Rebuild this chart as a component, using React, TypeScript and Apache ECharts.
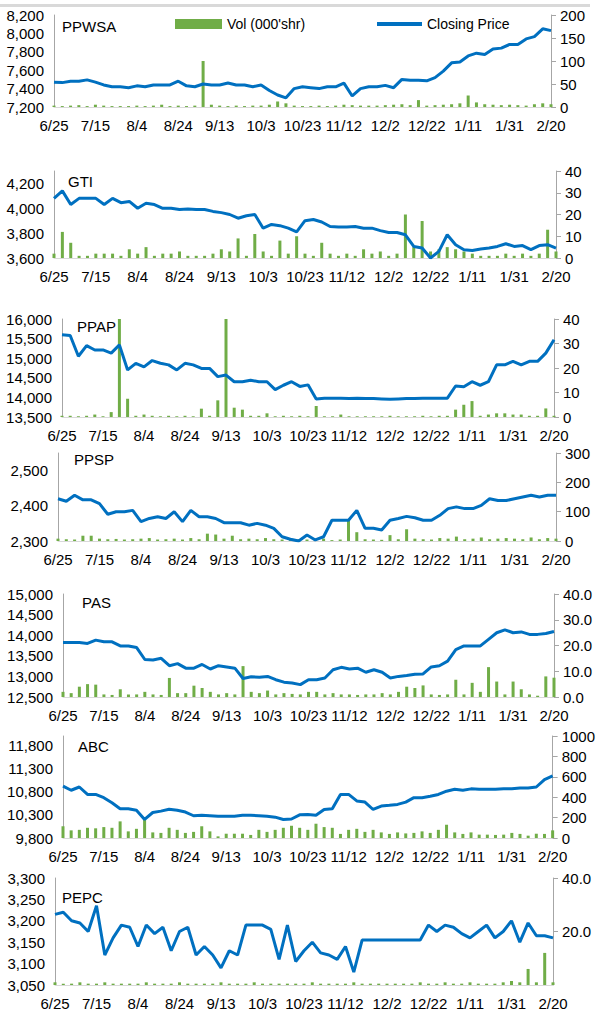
import React, { useEffect, useRef } from "react";
import * as echarts from "echarts";

const dates = [
  "6/25","6/29","7/3","7/7","7/11","7/15","7/19","7/23","7/27","7/31",
  "8/4","8/8","8/12","8/16","8/20","8/24","8/28","9/1","9/5","9/9",
  "9/13","9/17","9/21","9/25","9/29","10/3","10/7","10/11","10/15","10/19",
  "10/23","10/27","10/31","11/4","11/8","11/12","11/16","11/20","11/24","11/28",
  "12/2","12/6","12/10","12/14","12/18","12/22","12/26","12/30","1/3","1/7",
  "1/11","1/15","1/19","1/23","1/27","1/31","2/4","2/8","2/12","2/16",
  "2/20",
];

const VOL = "Vol (000'shr)";
const PRICE = "Closing Price";

const ppwsaPrice = [
  7470,7465,7480,7480,7495,7470,7440,7420,7420,7410,
  7430,7420,7440,7440,7440,7480,7430,7420,7450,7440,
  7440,7460,7440,7440,7420,7440,7380,7330,7300,7400,
  7420,7410,7400,7420,7420,7460,7320,7400,7420,7420,
  7435,7410,7500,7490,7490,7485,7520,7590,7680,7690,
  7755,7785,7770,7830,7840,7880,7880,7940,7965,8050,
  8030,
];
const ppwsaVol = [
  3,2,3,4,2,5,3,2,2,2,
  3,2,3,5,2,3,2,3,100,5,
  3,2,3,2,3,3,5,12,8,3,
  2,2,3,2,3,5,4,3,3,3,
  4,5,6,4,15,3,4,5,6,8,
  25,10,6,5,4,5,4,3,6,8,
  6,
];

const gtiPrice = [
  4080,4140,4030,4080,4080,4080,4030,4080,4045,4055,
  4000,4040,4030,4000,4000,3990,3995,3990,3990,3975,
  3965,3950,3920,3940,3950,3840,3870,3860,3840,3810,
  3900,3910,3890,3853,3850,3850,3853,3840,3840,3820,
  3805,3805,3787,3693,3680,3600,3653,3787,3707,3667,
  3660,3672,3680,3693,3715,3693,3700,3667,3700,3707,
  3680,
];
const gtiVol = [
  2,12,7,1,1,2,2,2,1,4,
  2,5,1,2,2,3,1,1,1,2,
  4,3,9,1,11,3,1,8,2,10,
  2,1,7,2,1,2,1,4,2,3,
  1,2,20,5,17,3,4,5,4,3,
  2,1,1,1,2,1,2,1,2,13,
  3,
];

const ppapPrice = [
  15600,15580,15050,15320,15210,15210,15130,15340,14700,14870,
  14780,14940,14870,14830,14700,14870,14830,14740,14740,14530,
  14570,14400,14400,14440,14400,14400,14200,14310,14400,14280,
  14320,13960,13980,13980,13980,13970,13980,13970,13970,13960,
  13950,13960,13970,13970,13980,13980,13980,13980,14290,14270,
  14400,14310,14400,14830,14830,14920,14830,14920,14920,15130,
  15470,
];
const ppapVol = [
  0.5,0.5,0.3,0.5,1,0.3,2,40,7.5,0.5,
  1,0.5,0.3,0.5,0.3,0.5,0.3,3.4,0.5,6.8,
  40,3.8,3,0.5,0.5,1.5,0.3,0.5,0.3,0.5,
  0.3,4.5,0.3,0.3,1,0.3,0.3,0.3,0.3,0.3,
  0.5,0.3,0.3,0.3,0.5,0.3,0.5,0.5,3,5,
  6.5,0.5,1,1.5,1.5,1,1,0.5,0.5,3.5,
  0.5,
];

const ppspPrice = [
  2420,2413,2430,2417,2417,2406,2376,2383,2383,2387,
  2355,2364,2369,2364,2383,2355,2387,2369,2369,2364,
  2352,2352,2352,2345,2350,2345,2336,2312,2305,2300,
  2317,2303,2312,2359,2359,2359,2387,2336,2336,2331,
  2359,2364,2370,2366,2359,2359,2373,2392,2397,2392,
  2392,2401,2420,2415,2415,2420,2425,2430,2425,2430,
  2430,
];
const ppspVol = [
  8,6,5,18,18,8,6,7,5,6,
  8,10,5,6,8,5,10,6,25,22,
  8,18,6,8,6,10,6,5,8,6,
  5,4,8,3,5,75,30,6,5,4,
  20,6,40,8,6,5,10,8,15,6,
  8,12,6,8,10,8,6,12,6,10,
  8,
];

const pasPrice = [
  13820,13820,13820,13800,13880,13840,13840,13740,13740,13700,
  13410,13400,13440,13260,13310,13200,13200,13290,13180,13260,
  13230,13200,12950,12990,12980,13000,12920,12860,12840,12800,
  12920,12920,12960,13160,13220,13180,13200,13100,13160,13100,
  12960,13000,13020,13050,13060,13230,13260,13370,13650,13740,
  13740,13740,13900,14060,14130,14060,14080,14020,14020,14040,
  14090,
];
const pasVol = [
  2,1.5,4,5,4.8,1,0.8,3,1,1,
  2,1,0.8,7.4,1.5,1.5,4.4,3.5,2,1,
  1.5,1,12,2,1.5,2.5,1,1.5,1.2,1,
  2,2,1,1.5,1,1,0.8,1,1,1.5,
  1,2,4,3.5,4.5,1,0.8,1,6.7,1,
  5.5,2,11.6,6,1,6,3,1,0.5,8,
  7.5,
];

const abcPrice = [
  10920,10830,10900,10740,10740,10670,10560,10430,10430,10400,
  10200,10350,10380,10420,10400,10360,10280,10290,10280,10270,
  10270,10270,10290,10290,10280,10270,10250,10200,10210,10300,
  10305,10290,10415,10430,10740,10740,10600,10575,10415,10490,
  10505,10525,10575,10670,10670,10700,10740,10810,10850,10830,
  10860,10850,10850,10850,10860,10860,10880,10880,10900,11060,
  11140,
];
const abcVol = [
  115,75,80,100,95,107,100,163,65,90,
  180,55,50,100,80,50,60,115,65,16,
  42,42,42,30,80,60,80,100,120,100,
  80,140,107,100,40,80,90,60,80,55,
  40,55,45,50,65,50,80,130,55,40,
  55,33,33,30,33,50,40,23,42,40,
  75,
];

const pepcPrice = [
  3215,3220,3200,3195,3175,3235,3120,3160,3190,3185,
  3140,3190,3170,3185,3130,3175,3185,3120,3140,3120,
  3090,3130,3120,3190,3190,3190,3180,3110,3190,3105,
  3130,3150,3125,3120,3110,3140,3080,3155,3155,3155,
  3155,3155,3155,3155,3155,3190,3175,3190,3185,3170,
  3160,3175,3190,3160,3175,3200,3150,3195,3165,3165,
  3160,
];
const pepcVol = [
  1,0.5,0.5,1,0.5,0.5,1,0.5,0.5,0.5,
  0.5,1,0.5,0.5,0.5,1,0.5,0.5,0.5,0.5,
  1,0.5,0.5,0.5,1,0.5,0.5,0.5,0.5,0.5,
  0.5,1,0.5,0.5,0.5,0.5,1,0.5,0.5,0.5,
  0.5,0.5,0.5,0.5,1,0.5,0.5,1,0.5,0.5,
  1,0.5,0.5,0.5,1,1.5,1,6,1,12,
  1,
];

const FONT = "Liberation Sans";
const GRAY = "#a6a6a6";
const fmtComma = (v: number) => v.toLocaleString("en-US");
const fmtOne = (v: number) => v.toFixed(1);

type Panel = {
  name: string; price: number[]; vol: number[];
  grid: { left: number; right: number; top: number; height: number };
  title: { left: number; top: number };
  lmin: number; lmax: number; lint: number; hideLMax?: boolean;
  rmax: number; rint: number; rfmt?: (v: number) => string; hideRMin?: boolean;
};

const panels: Panel[] = [
  { name: "PPWSA", price: ppwsaPrice, vol: ppwsaVol, grid: { left: 54, right: 47, top: 15, height: 92 }, title: { left: 62, top: 19 }, lmin: 7200, lmax: 8200, lint: 200, rmax: 200, rint: 50 },
  { name: "GTI", price: gtiPrice, vol: gtiVol, grid: { left: 54, right: 42, top: 171, height: 87 }, title: { left: 68, top: 174 }, lmin: 3600, lmax: 4300, lint: 200, hideLMax: true, rmax: 40, rint: 10 },
  { name: "PPAP", price: ppapPrice, vol: ppapVol, grid: { left: 62, right: 44, top: 319, height: 98 }, title: { left: 77, top: 319 }, lmin: 13500, lmax: 16000, lint: 500, rmax: 40, rint: 10 },
  { name: "PPSP", price: ppspPrice, vol: ppspVol, grid: { left: 58, right: 42, top: 453, height: 88 }, title: { left: 74, top: 452 }, lmin: 2300, lmax: 2550, lint: 100, hideLMax: true, rmax: 300, rint: 100 },
  { name: "PAS", price: pasPrice, vol: pasVol, grid: { left: 63, right: 44, top: 594, height: 103 }, title: { left: 82, top: 595 }, lmin: 12500, lmax: 15000, lint: 500, rmax: 40, rint: 10, rfmt: fmtOne },
  { name: "ABC", price: abcPrice, vol: abcVol, grid: { left: 63, right: 43, top: 736, height: 102 }, title: { left: 78, top: 739 }, lmin: 9800, lmax: 12000, lint: 500, hideLMax: true, rmax: 1000, rint: 200 },
  { name: "PEPC", price: pepcPrice, vol: pepcVol, grid: { left: 55, right: 45, top: 878, height: 107 }, title: { left: 62, top: 890 }, lmin: 3050, lmax: 3300, lint: 50, rmax: 40, rint: 20, rfmt: fmtOne, hideRMin: true },
];

function buildOption() {
  const grid: any[] = [];
  const xAxis: any[] = [];
  const yAxis: any[] = [];
  const series: any[] = [];
  const title: any[] = [];
  const labelStyle = { color: "#000", fontSize: 15, fontFamily: FONT };
  panels.forEach((p, k) => {
    grid.push({ ...p.grid });
    title.push({
      text: p.name, left: p.title.left, top: p.title.top, padding: 0,
      textStyle: { fontSize: 15, fontWeight: "normal", color: "#000", fontFamily: FONT },
    });
    xAxis.push({
      type: "category", gridIndex: k, data: dates, boundaryGap: false,
      axisLine: { show: true, lineStyle: { color: "#d9d9d9", width: 1 } },
      axisTick: { show: false },
      axisLabel: { ...labelStyle, interval: 4, margin: 11 },
    });
    yAxis.push({
      type: "value", gridIndex: k, position: "left", min: p.lmin, max: p.lmax, interval: p.lint,
      splitLine: { show: false },
      axisLine: { show: true, lineStyle: { color: GRAY } },
      axisTick: { show: false },
      axisLabel: { ...labelStyle, margin: 10, formatter: fmtComma, showMaxLabel: !p.hideLMax },
    });
    yAxis.push({
      type: "value", gridIndex: k, position: "right", min: 0, max: p.rmax, interval: p.rint,
      splitLine: { show: false },
      axisLine: { show: true, lineStyle: { color: GRAY } },
      axisTick: { show: true, length: 5, lineStyle: { color: GRAY } },
      axisLabel: { ...labelStyle, margin: 9, formatter: p.rfmt || ((v: number) => String(v)), showMinLabel: !p.hideRMin },
    });
    series.push({
      type: "bar", name: VOL, xAxisIndex: k, yAxisIndex: 2 * k + 1, data: p.vol,
      barWidth: 3, itemStyle: { color: "#70ad47" },
    });
    series.push({
      type: "line", name: PRICE, xAxisIndex: k, yAxisIndex: 2 * k, data: p.price,
      showSymbol: false, lineStyle: { color: "#0070c0", width: 3 }, itemStyle: { color: "#0070c0" },
    });
  });
  return {
    animation: false,
    backgroundColor: "#fff",
    textStyle: { fontFamily: FONT },
    title,
    legend: [
      { data: [VOL], left: 175, top: 17, padding: 0, icon: "rect", itemWidth: 47, itemHeight: 10,
        textStyle: { fontSize: 14, color: "#000", fontFamily: FONT } },
      { data: [PRICE], left: 377, top: 17, padding: 0, icon: "rect", itemWidth: 45, itemHeight: 4,
        textStyle: { fontSize: 14, color: "#000", fontFamily: FONT } },
    ],
    graphic: [
      { type: "rect", left: 0, top: 4, shape: { width: 590, height: 3 }, style: { fill: "#d9d9d9" } },
    ],
    grid, xAxis, yAxis, series,
  };
}

export default function App() {
  const ref = useRef<HTMLDivElement>(null);
  useEffect(() => {
    if (!ref.current) return;
    const chart = echarts.init(ref.current, null, { renderer: "svg" });
    chart.setOption(buildOption() as any);
    return () => chart.dispose();
  }, []);
  return (
    <div
      ref={ref}
      style={{ position: "absolute", left: 0, top: 0, width: 598, height: 1011, background: "#fff" }}
    />
  );
}
